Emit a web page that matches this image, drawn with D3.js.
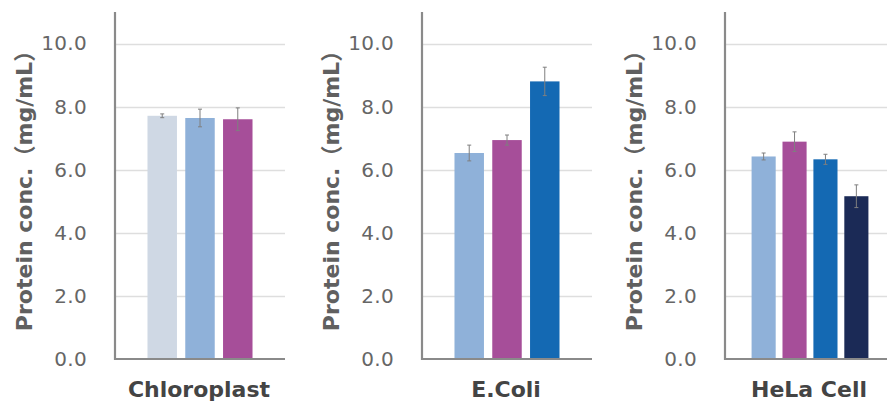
<!DOCTYPE html>
<html>
<head>
<meta charset="utf-8">
<script src="https://cdn.jsdelivr.net/npm/d3@7"></script>
<style>
  html, body { margin: 0; padding: 0; background: #ffffff; }
  svg { display: block; }
</style>
</head>
<body>
<svg id="chart" width="887" height="405"></svg>
<script>
// ---- data ----
const categories = ["Chloroplast", "E.Coli", "HeLa Cell"];
const seriesNames = ["Method 1", "Method 2", "Method 3", "Method 4", "Method 5"];
const seriesColors = ["#cfd8e4", "#8fb1d9", "#a64e99", "#1469b3", "#1b2a56"];

const chloroplastSeries = ["Method 1", "Method 2", "Method 3"];
const chloroplastValues = [7.71, 7.64, 7.60];
const chloroplastErrors = [0.06, 0.28, 0.36];

const ecoliSeries = ["Method 2", "Method 3", "Method 4"];
const ecoliValues = [6.53, 6.94, 8.80];
const ecoliErrors = [0.25, 0.16, 0.45];

const helaSeries = ["Method 2", "Method 3", "Method 4", "Method 5"];
const helaValues = [6.42, 6.89, 6.33, 5.16];
const helaErrors = [0.11, 0.31, 0.16, 0.36];

const yTicks = [0, 2, 4, 6, 8, 10];
const yMax = 11;
const yTitle = "Protein conc.（mg/mL）";

// ---- layout ----
const panels = [
  { name: categories[0], series: chloroplastSeries, values: chloroplastValues, errors: chloroplastErrors, offset: 0 },
  { name: categories[1], series: ecoliSeries, values: ecoliValues, errors: ecoliErrors, offset: 307 },
  { name: categories[2], series: helaSeries, values: helaValues, errors: helaErrors, offset: 610 }
];
const axisX = 115, plotW = 170, plotTop = 12, plotBottom = 359;

const color = d3.scaleOrdinal().domain(seriesNames).range(seriesColors);
const y = d3.scaleLinear().domain([0, yMax]).range([plotBottom, plotTop]);

const svg = d3.select("#chart");
const latinFont = "'DejaVu Sans', Verdana, 'Noto Sans CJK JP', sans-serif";

panels.forEach(p => {
  const g = svg.append("g").attr("transform", `translate(${p.offset + axisX},0)`);
  const x = d3.scaleBand().domain(p.series).range([0, plotW]).paddingInner(0.22).paddingOuter(0.86);

  // gridlines
  g.append("g").selectAll("line").data(yTicks.filter(t => t > 0)).join("line")
    .attr("x1", 0).attr("x2", plotW)
    .attr("y1", d => Math.round(y(d)) + 0.5).attr("y2", d => Math.round(y(d)) + 0.5)
    .attr("stroke", "#dedede").attr("stroke-width", 1.3);

  // bars
  const data = p.series.map((s, i) => ({ s, v: p.values[i], e: p.errors[i] }));
  g.append("g").selectAll("rect").data(data).join("rect")
    .attr("x", d => x(d.s)).attr("width", x.bandwidth())
    .attr("y", d => y(d.v)).attr("height", d => y(0) - y(d.v))
    .attr("fill", d => color(d.s));

  // error bars
  const eb = g.append("g").attr("stroke", "#7f7f7f").attr("stroke-width", 1);
  eb.selectAll("line.v").data(data).join("line").attr("class", "v")
    .attr("x1", d => x(d.s) + x.bandwidth() / 2).attr("x2", d => x(d.s) + x.bandwidth() / 2)
    .attr("y1", d => y(d.v + d.e)).attr("y2", d => y(d.v - d.e));
  ["hi", "lo"].forEach(k => {
    eb.selectAll("line." + k).data(data).join("line").attr("class", k)
      .attr("x1", d => x(d.s) + x.bandwidth() / 2 - 2).attr("x2", d => x(d.s) + x.bandwidth() / 2 + 2)
      .attr("y1", d => y(k === "hi" ? d.v + d.e : d.v - d.e))
      .attr("y2", d => y(k === "hi" ? d.v + d.e : d.v - d.e));
  });

  // y axis
  const yAxis = d3.axisLeft(y).tickValues(yTicks).tickFormat(d3.format(".1f")).tickSize(0).tickPadding(28);
  const ya = g.append("g").call(yAxis);
  ya.select(".domain").remove();
  ya.selectAll("text").attr("fill", "#666666").style("font-family", latinFont)
    .style("font-size", "20px").style("letter-spacing", "0.3px");

  // axis lines
  g.append("line").attr("x1", 0).attr("x2", 0).attr("y1", plotTop).attr("y2", plotBottom + 1)
    .attr("stroke", "#8a8a8a").attr("stroke-width", 2.2);
  g.append("line").attr("x1", -1).attr("x2", plotW).attr("y1", plotBottom).attr("y2", plotBottom)
    .attr("stroke", "#8a8a8a").attr("stroke-width", 2.2);

  // y title
  g.append("text")
    .attr("transform", `translate(-83,${(plotTop + plotBottom) / 2}) rotate(-90)`)
    .attr("text-anchor", "middle")
    .attr("fill", "#606060")
    .style("font-family", latinFont).style("font-weight", "bold").style("font-size", "22px")
    .text(yTitle);

  // category label
  g.append("text")
    .attr("x", plotW / 2 - 1).attr("y", 397)
    .attr("text-anchor", "middle")
    .attr("fill", "#444444")
    .style("font-family", latinFont).style("font-weight", "bold").style("font-size", "22px")
    .text(p.name);
});
</script>
</body>
</html>
